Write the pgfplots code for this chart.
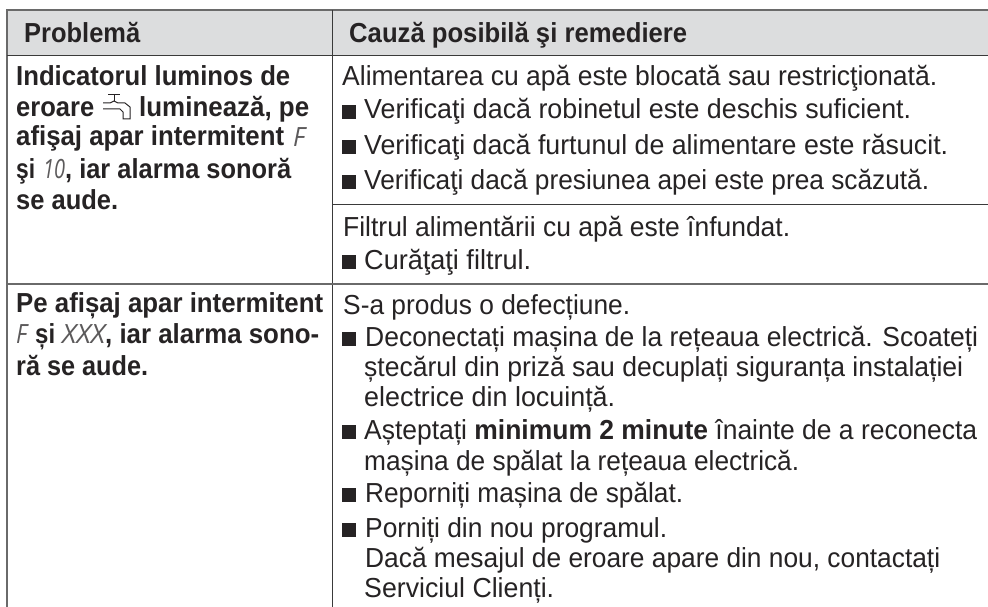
\documentclass[border=0pt]{standalone}
\usepackage{fontspec}
\usepackage{graphicx}
\usepackage{pgfplots}
\pgfplotsset{compat=1.18}
\setmainfont{Liberation Sans}
\newfontfamily\seg{Open Sans}
\definecolor{ink}{HTML}{262324}
\definecolor{hdr}{HTML}{DCDDDE}
\definecolor{rulegray}{HTML}{6A6A6A}
\definecolor{ruledark}{HTML}{3A3A3A}
% x y xend text : one line of text, fitted to its measured extent
\newcommand{\tl}[4]{\node[anchor=base west,inner sep=0pt,text=ink] at (axis cs:#1,#2) {\resizebox{\dimexpr#3bp-#1bp\relax}{\height}{\strut\fontsize{27.5bp}{30bp}\selectfont #4}};}
\newcommand{\bl}[4]{\node[anchor=base west,inner sep=0pt,text=ink] at (axis cs:#1,#2) {\resizebox{\dimexpr#3bp-#1bp\relax}{\height}{\strut\fontsize{27.5bp}{30bp}\selectfont\bfseries #4}};}
\newcommand{\sg}[4]{\node[anchor=base west,inner sep=0pt,text=ink!75] at (axis cs:#1,#2) {\resizebox{\dimexpr#3bp-#1bp\relax}{\height}{\strut\fontsize{26.5bp}{30bp}\selectfont\seg\itshape #4}};}
\newcommand{\sq}[1]{\node[anchor=base west,inner sep=0pt,text=ink] at (axis cs:342,#1) {\rule{14bp}{13.5bp}};}
\begin{document}
\begin{tikzpicture}
\begin{axis}[
  scale only axis, width=988bp, height=607bp,
  xmin=0, xmax=988, ymin=0, ymax=607, y dir=reverse,
  hide axis, clip=true]
\addplot[fill=white,draw=none] coordinates {(0,0) (988,0) (988,607) (0,607)} -- cycle;
\addplot[fill=hdr,draw=none] coordinates {(7,10) (988,10) (988,56) (7,56)} -- cycle;
% rules
\addplot[rulegray,line width=1.8bp] coordinates {(6,10) (988,10)};
\addplot[rulegray,line width=1.8bp] coordinates {(7,10) (7,607)};
\addplot[ruledark,line width=1bp] coordinates {(7,56) (988,56)};
\addplot[ruledark,line width=1bp] coordinates {(332.7,10) (332.7,607)};
\addplot[ruledark,line width=1bp] coordinates {(332.7,204.7) (988,204.7)};
\addplot[rulegray,line width=1.8bp] coordinates {(7,284) (988,284)};
% tap icon
\addplot[ink,line width=1bp] coordinates {(108,95) (120,95)};
\addplot[ink,line width=1bp] coordinates {(114,95) (114,101)};
\addplot[ink,line width=1bp] coordinates {(103,103) (110,103) (114,101) (118,103) (125,103) (130,107) (130,119) (123,119) (123,112) (120,109) (103,109)};
% header
\bl{24}{42.5}{140}{Problemă}
\bl{349}{42.5}{687}{Cauză posibilă şi remediere}
% row 1 left
\bl{16}{86}{290}{Indicatorul luminos de}
\bl{16}{116}{94}{eroare}
\bl{139}{116}{309}{luminează, pe}
\bl{16}{146}{284}{afişaj apar intermitent}
\sg{293}{146}{305}{F}
\bl{16}{178}{35}{şi}
\sg{43}{178}{65}{10}
\bl{65}{178}{291}{, iar alarma sonoră}
\bl{16}{209}{118}{se aude.}
% row 1 right
\tl{342}{86}{937}{Alimentarea cu apă este blocată sau restricţionată.}
\sq{118.5}\tl{364}{119}{911}{Verificaţi dacă robinetul este deschis suficient.}
\sq{153.5}\tl{364}{154}{948}{Verificaţi dacă furtunul de alimentare este răsucit.}
\sq{188.5}\tl{364}{189}{929}{Verificaţi dacă presiunea apei este prea scăzută.}
\tl{343}{236}{790}{Filtrul alimentării cu apă este înfundat.}
\sq{268.5}\tl{364}{269}{531}{Curăţaţi filtrul.}
% row 2 left
\bl{16}{312}{323}{Pe afișaj apar intermitent}
\sg{16}{343}{27}{F}
\bl{35}{343}{55}{și}
\sg{62}{343}{105}{XXX}
\bl{105}{343}{319}{, iar alarma sono-}
\bl{16}{375}{148}{ră se aude.}
% row 2 right
\tl{343}{314}{630}{S-a produs o defecțiune.}
\sq{345.5}\tl{365}{346}{978}{Deconectați mașina de la rețeaua electrică. Scoateți}
\tl{364}{376}{963}{ștecărul din priză sau decuplați siguranța instalației}
\tl{364}{406}{615}{electrice din locuință.}
\sq{438.5}\tl{364}{439}{977}{Așteptați \textbf{minimum 2 minute} înainte de a reconecta}
\tl{364}{470}{799}{mașina de spălat la rețeaua electrică.}
\sq{501.5}\tl{365}{502}{683}{Reporniți mașina de spălat.}
\sq{536.5}\tl{365}{537}{667}{Porniți din nou programul.}
\tl{365}{567}{940}{Dacă mesajul de eroare apare din nou, contactați}
\tl{364}{597}{554}{Serviciul Clienți.}
\end{axis}
\end{tikzpicture}
\end{document}
